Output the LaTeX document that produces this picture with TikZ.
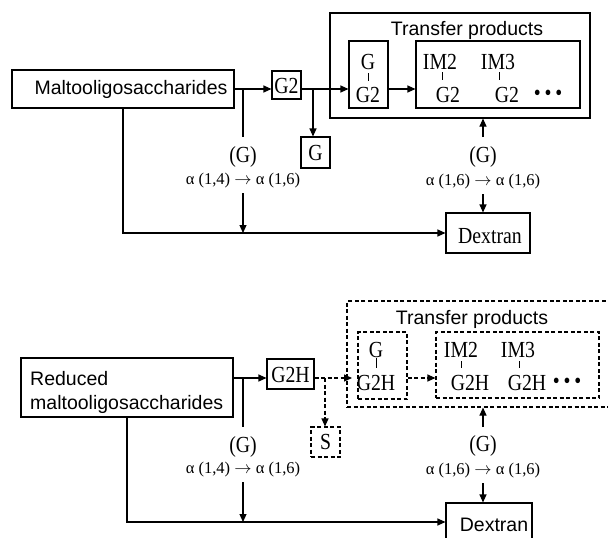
\documentclass[tikz,border=0pt]{standalone}
\usepackage{fontspec}
\setmainfont{Liberation Serif}
\setsansfont{Liberation Sans}
\newfontfamily\serstretch[FakeStretch=0.86]{Liberation Serif}
\usetikzlibrary{arrows.meta}
\begin{document}
\begin{tikzpicture}[x=1pt,y=-1pt,
  ln/.style={line width=1.1pt},
  arr/.style={ln,-{Triangle[length=8pt,width=7pt]}},
  dsh/.style={dash pattern=on 4pt off 2.5pt},
  sans/.style={font=\sffamily\fontsize{19.5}{24}\selectfont},
  ser/.style={font=\serstretch\fontsize{23}{25}\selectfont},
  lab/.style={font=\fontsize{16.5}{18}\selectfont},
  txt/.style={inner sep=0pt},
  box/.style 2 args={draw,ln,inner sep=0pt,minimum width=#1,minimum height=#2},
  tick/.style={line width=0.8pt}
]
\useasboundingbox (0,0) rectangle (608,538);

% ===================== TOP =====================
\node[box={222}{38}] (malto) at (123,89) {};
\node[txt,sans] (maltot) at (131,89) {Maltooligosaccharides};
\node[box={29}{28}] (g2) at (286.5,85) {};
\node[txt,ser] (g2t) at (286.5,86) {G2};
\node[box={29}{31},ser] (gsm) at (315.5,152.5) {G};
\node[box={260}{105}] (tp1) at (460,65.5) {};
\node[txt,sans] (tpt1) at (467,30) {Transfer products};
\node[box={39}{67}] (tl1) at (368.5,74.5) {};
\node[box={164}{67}] (tr1) at (498,74.5) {};
\node[box={84}{40}] (dex1) at (488,233) {};
\node[txt,ser] (dext1) at (490,236) {Dextran};

\node[txt,ser] (ga1) at (368,62) {G};
\node[txt,ser] (gb1) at (368,95) {G2};
\node[txt,ser] (im2a) at (440,62) {IM2};
\node[txt,ser] (im2b) at (448,95) {G2};
\node[txt,ser] (im3a) at (498,62) {IM3};
\node[txt,ser] (im3b) at (507,95) {G2};
\node[txt,ser] (dots1) at (548,95) {•\,•\,•};
\draw[tick] (368,73) -- (368,81);
\draw[tick] (442,72) -- (442,80);
\draw[tick] (499,72) -- (499,80);

\node[txt,ser] (gl1) at (243,156.5) {(G)};
\node[txt,lab] (al1) at (243,180.5) {α (1,4) $\rightarrow$ α (1,6)};
\node[txt,ser] (gl2) at (483,156.5) {(G)};
\node[txt,lab] (al2) at (483,181.5) {α (1,6) $\rightarrow$ α (1,6)};

\coordinate (b1) at (243,89);
\coordinate (v1a) at (243,137);
\coordinate (v1b) at (243,193);
\coordinate (j1) at (243,233);
\coordinate (b2) at (313,89);
\coordinate (v2a) at (483,137);
\coordinate (v2b) at (483,194);

\draw[arr] (malto.east) -- (malto.east -| g2.west);
\draw[ln] (b1) -- (v1a);
\draw[arr] (v1b) -- (j1);
\draw[arr] (g2.east |- b2) -- (tl1.west |- b2);
\draw[arr] (b2) -- (b2 |- gsm.north);
\draw[arr] (tl1.east |- b2) -- (tr1.west |- b2);
\draw[arr] (malto.south) |- (dex1.west);
\draw[arr] (v2a) -- (v2a |- tp1.south);
\draw[arr] (v2b) -- (v2b |- dex1.north);

% ===================== BOTTOM =====================
\node[box={212}{59}] (red) at (127,387.5) {};
\node[txt,sans,align=left,anchor=north west] (redt) at (30,371) {Reduced\\maltooligosaccharides};
\node[box={47}{30}] (g2h) at (290.5,374) {};
\node[txt,ser] (g2ht) at (290.5,375) {G2H};
\node[box={29}{30},ser,dsh] (s) at (325.5,442) {S};
\node[box={268}{106},dsh] (tp2) at (481,354) {};
\node[txt,sans] (tpt2) at (472,319) {Transfer products};
\node[box={49}{67},dsh] (tl2) at (382.5,365.5) {};
\node[box={163}{66},dsh] (tr2) at (517.5,365) {};
\node[box={86}{38}] (dex2) at (489,522) {};
\node[txt,sans] (dext2) at (494,525) {Dextran};

\node[txt,ser] (ga2) at (376,350) {G};
\node[txt,ser] (gb2) at (376,383) {G2H};
\node[txt,ser] (im2c) at (461,350) {IM2};
\node[txt,ser] (im2d) at (470,383) {G2H};
\node[txt,ser] (im3c) at (518,350) {IM3};
\node[txt,ser] (im3d) at (527,383) {G2H};
\node[txt,ser] (dots2) at (567,383) {•\,•\,•};
\draw[tick] (376,358) -- (376,368);
\draw[tick] (461,361) -- (461,368);
\draw[tick] (519,361) -- (519,368);

\node[txt,ser] (gl3) at (243,446.5) {(G)};
\node[txt,lab] (al3) at (243,469.5) {α (1,4) $\rightarrow$ α (1,6)};
\node[txt,ser] (gl4) at (483,445.5) {(G)};
\node[txt,lab] (al4) at (483,470.5) {α (1,6) $\rightarrow$ α (1,6)};

\coordinate (b3) at (243,378);
\coordinate (v3a) at (243,427);
\coordinate (v3b) at (243,482);
\coordinate (j3) at (243,522);
\coordinate (b4) at (325,378);
\coordinate (e4) at (352,378);
\coordinate (v4a) at (483,427);
\coordinate (v4b) at (483,483);

\draw[arr] (red.east |- b3) -- (g2h.west |- b3);
\draw[ln] (b3) -- (v3a);
\draw[arr] (v3b) -- (j3);
\draw[arr,dsh] (g2h.east |- b3) -- (e4);
\draw[arr,dsh] (b4) -- (b4 |- s.north);
\draw[arr,dsh] (tl2.east |- b3) -- (tr2.west |- b3);
\draw[arr] (red.south) |- (dex2.west);
\draw[arr] (v4a) -- (v4a |- tp2.south);
\draw[arr] (v4b) -- (v4b |- dex2.north);
\end{tikzpicture}
\end{document}
